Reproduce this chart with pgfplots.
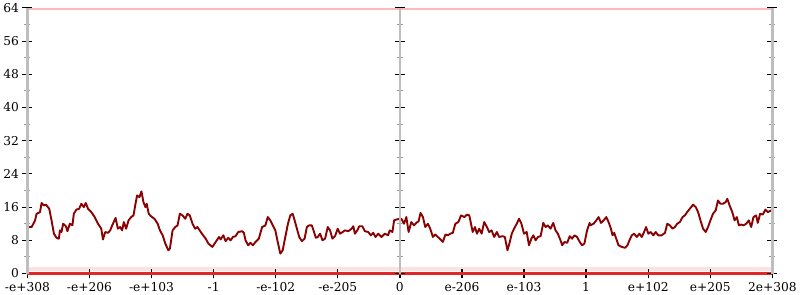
\documentclass[border=0pt]{standalone}
\usepackage{fontspec}
\setmainfont{DejaVu Serif}
\usepackage{pgfplots}
\usepackage{pgfplotstable}
\pgfplotsset{compat=1.18}
\definecolor{dred}{RGB}{139,0,0}
\definecolor{bred}{RGB}{225,40,40}
\definecolor{axgray}{RGB}{190,190,190}
\pgfplotstableread{
x y
0 11.2
4.3 11.2
7.7 12.8
9.3 14.4
12.7 14.8
14.3 17.0
16.7 16.4
18.7 16.6
22 15.6
24.3 12.8
26.7 9.6
29.3 8.6
31.7 8.4
32.7 10.4
34.3 10.0
36 12.0
38.7 11.4
40.3 10.2
42.7 12.0
45.3 11.6
46.7 14.4
49.3 15.4
52 15.6
54.3 16.8
56.7 16.0
58.7 17.0
61 15.6
64.3 14.8
67.7 13.6
71 12.0
74.3 10.8
76 8.2
78.3 10.0
81 9.8
83.3 10.4
85.3 11.6
88.7 13.4
91 10.8
93.3 11.2
95.3 10.4
97 12.4
99.3 10.8
101.7 12.8
104.3 13.6
106.7 14.0
108.7 16.8
110.3 18.8
112.7 18.4
114.7 19.8
116.7 17.2
118.7 16.0
120 16.8
122 14.4
124.3 13.8
127.7 13.2
131 12.0
133.3 10.4
136 9.2
138.7 7.2
141.7 5.6
143.3 6.0
146 10.4
148.7 11.2
151 11.6
153.3 14.4
156 14.0
158.7 13.2
161 14.4
163.3 14.0
166 12.0
168.7 10.8
171 11.2
174.3 10.0
176.7 9.2
179.3 8.4
182 7.2
186 6.4
189.3 7.6
192.7 8.8
194.3 8.2
197 9.2
199.3 7.8
202 8.6
204.3 8.0
206.7 8.8
209.3 9.0
212 10.0
216 10.2
217.7 9.8
219.3 8.0
222 6.8
224.3 7.4
226.7 6.8
229.3 7.6
232.7 8.4
236 11.2
239.3 11.6
241.7 13.6
244.3 12.8
246.7 11.6
249.3 10.4
251.7 7.6
254.3 4.8
256.7 5.6
259.3 8.8
262 12.0
264.3 14.0
266.7 14.4
268.7 12.8
271 10.8
273.3 8.8
276 7.8
278.7 8.4
281 11.2
283.3 11.6
286 11.6
287.7 10.4
290 8.6
292 8.8
294.3 9.6
296.7 8.0
299.3 8.4
302 11.2
304.3 10.4
306.7 8.4
309.3 9.0
312 10.8
314.3 9.6
317 10.0
319.3 10.4
322.7 10.2
326 10.8
327.7 11.4
329.3 9.6
331.7 10.4
333.7 11.4
336.7 11.4
339.3 10.2
342.7 10.0
345.3 9.2
347.7 9.8
350 8.8
352.7 9.6
356 8.8
359.3 9.6
362.7 9.2
364.3 10.4
367 10.0
368.7 12.8
371 13.0
374.3 13.2
376 13.2
378.7 12.0
381 13.6
383.3 10.0
386 12.4
388.7 11.6
391 12.2
393.3 12.6
395.3 14.6
397.7 13.6
400 11.2
402.7 12.0
405 10.8
407.7 8.8
410 9.4
412.7 8.8
415.3 8.2
417.7 7.6
420.3 9.4
422.7 9.2
425.3 9.6
427.7 9.8
430.3 12.0
433.3 12.4
436 14.0
439.3 13.6
442 14.2
444.3 14.0
446 12.0
447.7 10.0
450 11.2
452 9.6
454.3 10.8
456.7 9.6
459.3 12.4
462 11.2
464.3 10.0
466.7 10.4
469.3 8.8
472 10.0
474.3 8.8
477.7 9.0
480 8.8
482.7 5.6
485 7.6
487 9.6
489.3 10.8
492 12.0
494.3 13.2
496.7 12.0
499.3 9.6
502 10.0
504.3 6.8
506.7 8.4
508.7 9.2
511 8.0
513.3 8.8
516 9.0
518.7 12.2
521 11.2
523.3 11.6
526 10.8
528.7 12.2
531 10.4
533.3 9.6
536 8.0
537.7 6.8
540 7.6
542.7 7.4
545.3 9.0
547.7 8.4
550 9.2
552.7 8.8
555.3 7.6
557.7 6.8
560 7.2
562.7 10.4
565.3 12.2
566 11.6
569.3 12.0
572 12.8
574.3 13.6
576.7 12.2
579.3 12.8
582 13.6
584.3 12.4
586.7 10.8
588.3 9.2
590 9.8
592 8.4
594.3 6.8
597.7 6.4
601 6.2
603.3 6.8
605.3 8.0
607.7 9.2
610 9.6
612.7 8.8
615.3 9.6
617.7 8.8
620 10.0
622 11.2
624.3 9.6
626.7 10.0
629.3 9.2
631.7 10.0
634.3 9.2
637.7 9.2
641 9.8
643.3 12.0
646 11.6
648.7 10.8
651 11.2
653.3 12.0
656 12.4
658.7 13.6
661 14.0
663.3 14.8
666 15.6
669.3 16.6
672 16.0
674.3 14.8
676.7 12.8
679.3 10.8
682 10.0
684.3 11.2
686.7 12.8
689.3 14.4
692 15.2
694.3 17.6
696.7 16.8
699.3 16.8
702 17.2
703.7 18.0
706 16.4
708.7 14.8
711 12.8
713.3 13.6
715.3 11.6
717.7 11.8
720 11.6
722.7 12.0
725.3 12.8
727.7 11.2
730 13.6
732.7 14.0
734.3 12.2
736.7 14.4
739.3 14.2
742 15.4
744.3 14.8
747.7 15.2
749 15.2
}\series
\pgfplotsset{
  base/.style={
    width=749pt, height=267pt, scale only axis,
    xmin=0, xmax=749, ymin=0, ymax=64,
    clip=false,
    ytick={0,8,...,64}, minor y tick num=1,
    tick align=center,
    major tick length=10pt, minor tick length=6pt,
    major tick style={black, line width=1.1pt},
    minor tick style={gray!80, line width=0.9pt},
    axis line style={axgray, line width=2.6pt, -},
    tick label style={font=\fontsize{12.3}{14}\selectfont},
    /pgf/number format/assume math mode=true,
  }
}
\begin{document}
\begin{tikzpicture}
\begin{axis}[
  axis x line=bottom, axis y line=left, base, axis on top,
  x axis line style={bred, line width=2.2pt},
  xtick style={black, line width=1.4pt},
  xtick={0,62.4167,124.8333,187.25,249.6667,312.0833,374.5,436.9167,499.3333,561.75,624.1667,686.5833,749},
  xticklabels={-e+308,-e+206,-e+103,-1,-e-102,-e-205,0,e-206,e-103,1,e+102,e+205,2e+308},
]
\addplot[draw=red!12, line width=4pt, forget plot] coordinates {(0,1.0) (749,1.0)};
\addplot[draw=red!28, line width=2.5pt, forget plot] coordinates {(0,63.7) (749,63.7)};
\addplot[draw=bred, line width=2.2pt, forget plot] coordinates {(0,0) (749,0)};
\addplot[draw=dred, line width=1.9pt, line join=round] table[x=x,y=y] {\series};
\end{axis}
\begin{axis}[
  axis x line=none, axis y line=right, base,
  yticklabels={}, xtick=\empty,
]
\end{axis}
\begin{axis}[
  axis x line=none, axis y line=middle, base, xmin=-1, xmax=1,
  yticklabels={}, xtick=\empty,
]
\end{axis}
\end{tikzpicture}
\end{document}
